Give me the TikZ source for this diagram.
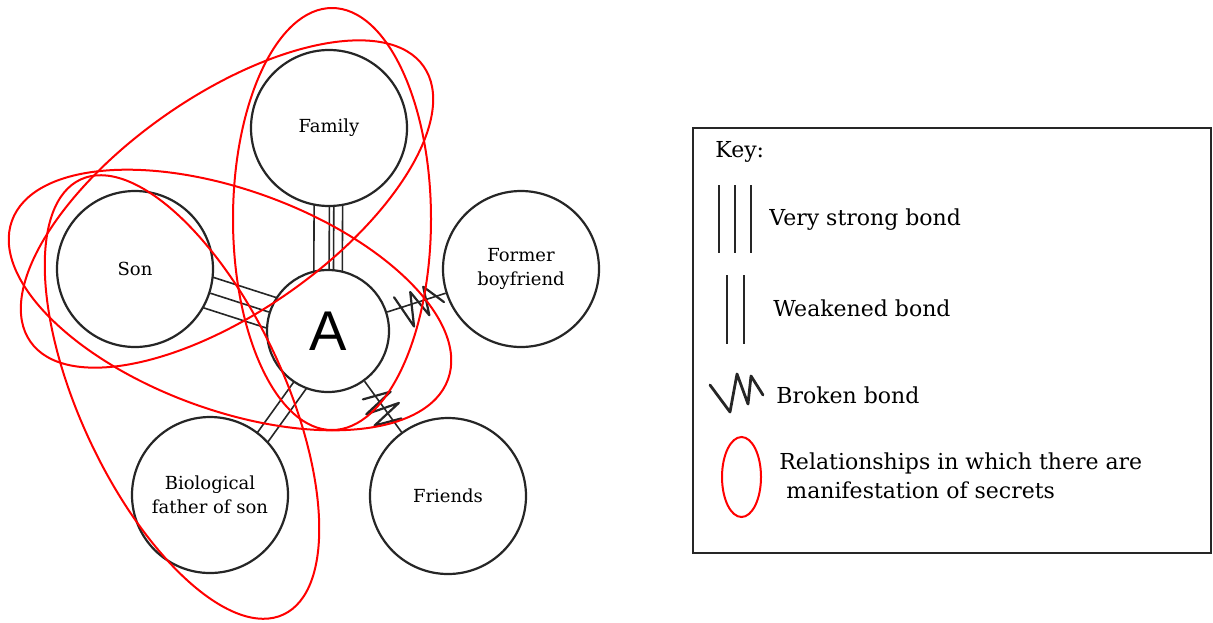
\documentclass[tikz,border=0pt]{standalone}
\usepackage{fontspec}
\setmainfont{DejaVu Serif}
\newfontfamily\sansA{Liberation Sans}
\usetikzlibrary{calc}
\pgfdeclarelayer{bg}
\pgfdeclarelayer{fg}
\pgfsetlayers{bg,main,fg}
\begin{document}
\begin{tikzpicture}[x=0.5pt,y=-0.5pt,
  person/.style={circle,draw=black!85,line width=1.1pt,fill=white,minimum size=78pt,inner sep=0pt,
    font=\fontsize{9}{12}\selectfont,align=center},
  centre/.style={circle,draw=black!85,line width=1.1pt,fill=white,minimum size=61pt,inner sep=0pt,
    font=\sansA\fontsize{28}{30}\selectfont},
  bond/.style={draw=black!85,line width=0.8pt},
  zig/.style={draw=black!85,line width=1.1pt,line join=round,line cap=round},
  secret/.style={draw=red,line width=1pt},
  keytext/.style={font=\fontsize{11}{14.5}\selectfont,anchor=west,inner sep=0pt,align=left}
]
\useasboundingbox (0,0) rectangle (1213,622);

% people
\node[person] (fam) at (329,128) {Family};
\node[person] (son) at (135,269) {Son};
\node[person] (bf)  at (521,269) {Former\\boyfriend};
\node[centre] (A)   at (328,331) {A};
\node[person] (bio) at (210,495) {Biological\\father of son};
\node[person] (fr)  at (448,496) {Friends};

% bonds (behind the circles)
\begin{pgfonlayer}{bg}
  % very strong bond: family
  \draw[bond] ($(fam)!7.25pt!-90:(A)$) -- ($(A)!7.25pt!90:(fam)$);
  \draw[bond] ($(fam)!0.4pt!90:(A)$) -- ($(A)!0.4pt!-90:(fam)$);
  \draw[bond] ($(fam)!2.6pt!90:(A)$) -- ($(A)!2.6pt!-90:(fam)$);
  \draw[bond] ($(fam)!7pt!90:(A)$) -- ($(A)!7pt!-90:(fam)$);
  % very strong bond: son
  \draw[bond] (son) -- (A);
  \draw[bond] ($(son)!8pt!90:(A)$) -- ($(A)!8pt!-90:(son)$);
  \draw[bond] ($(son)!8pt!-90:(A)$) -- ($(A)!8pt!90:(son)$);
  % weakened bond: biological father
  \draw[bond] ($(A)!1pt!90:(bio)$) -- ($(bio)!1pt!-90:(A)$);
  \draw[bond] ($(A)!8pt!90:(bio)$) -- ($(bio)!8pt!-90:(A)$);
  % broken bonds
  \draw[bond] (A) -- (bf);
  \draw[bond] (A) -- (fr);
\end{pgfonlayer}

% zigzags of broken bonds
\begin{scope}[shift={($(A)!0.46!(bf)$)},rotate=18]
  \draw[zig] (-20,-12) -- (-10,22) -- (-3,-12) -- (8,16) -- (11,-13) -- (26,8);
\end{scope}
\begin{scope}[shift={($(A)!0.46!(fr)$)},rotate=-54]
  \draw[zig] (-18,12) -- (-8,-15) -- (-4,18) -- (6,-15) -- (10,18) -- (20,-8);
\end{scope}

% secrets
\begin{pgfonlayer}{fg}
  \draw[secret] (332,219) ellipse [x radius=99, y radius=211];
  \draw[secret, rotate around={35:(227,204)}] (227,204) ellipse [x radius=240, y radius=108];
  \draw[secret, rotate around={-20:(230,300)}] (230,300) ellipse [x radius=232, y radius=110];
  \draw[secret, rotate around={-65:(182,397)}] (182,397) ellipse [x radius=240, y radius=102];
\end{pgfonlayer}

% key
\draw[draw=black!85,line width=1pt] (693,128) rectangle (1211,553);
\node[keytext] (keyhead) at (715,152) {Key:};
\draw[bond,line width=0.9pt] (719,185) -- (719,253);
\draw[bond,line width=0.9pt] (735,185) -- (735,253);
\draw[bond,line width=0.9pt] (751,185) -- (751,253);
\node[keytext] (k1) at (769,220) {Very strong bond};
\draw[bond,line width=0.9pt] (727,275) -- (727,344);
\draw[bond,line width=0.9pt] (744,275) -- (744,344);
\node[keytext] (k2) at (773,308) {Weakened bond};
\draw[zig,line width=1.4pt] (710,385) -- (730,412) -- (737,374) -- (748,404) -- (751,376) -- (763,395);
\node[keytext] (k3) at (776,395) {Broken bond};
\draw[secret] (741.5,477) ellipse [x radius=19.5, y radius=40];
\node[keytext] (k4) at (779,476) {Relationships in which there are\\\hspace{3.5pt}manifestation of secrets};
\end{tikzpicture}
\end{document}
